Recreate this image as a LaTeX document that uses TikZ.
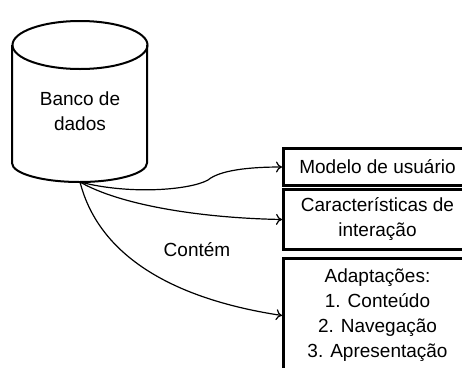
\documentclass[tikz,border=0pt]{standalone}
\usepackage{fontspec}
\setmainfont{Liberation Sans}
\usetikzlibrary{arrows.meta,positioning,calc}

\tikzset{
  every node/.style={font=\fontsize{19}{25}\selectfont},
  infobox/.style={draw, line width=3pt, minimum width=188pt, align=center, anchor=north west, inner sep=0pt},
  link/.style={->, line width=1.2pt},
}

\begin{document}
\begin{tikzpicture}[x=1pt, y=-1pt, >={To[length=6pt,width=11pt]}]
		\clip (0,0) rectangle (462,367);
		% banco de dados (cilindro)
		\draw[line width=2pt] (12,45) -- (12,163) arc[start angle=180, end angle=0, x radius=67.5, y radius=19] -- (147,45);
		\draw[line width=2pt] (80,45) ellipse[x radius=67.5, y radius=24];
		\node[align=center] (db) at (80,111) {Banco de\\dados};
		\coordinate (dbout) at (80,182);
		% caixas
		\node[infobox, minimum height=37pt] (modelo) at (282,147) {Modelo de usuário};
		\node[infobox, minimum height=60pt] (carac) at (282,188) {Características de\\interação};
		\node[infobox, minimum height=114pt] (adapt) at (282,257) {Adaptações:\\1. Conteúdo\\2. Navegação\\3. Apresentação};
		% ligacoes
		\draw[link] (dbout) .. controls (130,195) and (190,190) .. (208,180) .. controls (220,170) and (250,167) .. (modelo.west);
		\draw[link] (dbout) .. controls (120,205) and (200,218) .. (carac.west);
		\draw[link] (dbout) .. controls (100,260) and (180,300) .. (adapt.west);
		\node (contem) at (197,250) {Contém};
\end{tikzpicture}
\end{document}
